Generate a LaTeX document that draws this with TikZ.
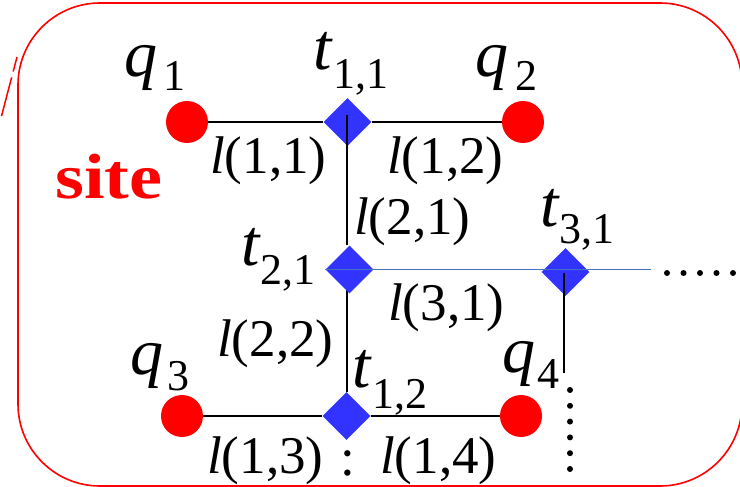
\documentclass[tikz,border=0pt]{standalone}
\usepackage{fontspec}
\usepackage{graphicx}
\setmainfont{Liberation Serif}
\usetikzlibrary{shapes.geometric,backgrounds}
\definecolor{qred}{RGB}{255,0,0}
\definecolor{tblue}{RGB}{51,51,255}
\definecolor{lblue}{RGB}{68,114,196}
\tikzset{
  qnode/.style={circle, fill=qred, inner sep=0pt, minimum size=42pt},
  tnode/.style={diamond, fill=tblue, inner sep=0pt, minimum width=48pt, minimum height=48pt},
  mainlab/.style={inner sep=0pt, anchor=base west, font=\fontsize{66}{66}\selectfont\itshape},
  sublab/.style={inner sep=0pt, anchor=base west, font=\fontsize{44}{44}\selectfont},
  linklab/.style={inner sep=0pt, anchor=base west, font=\fontsize{53}{53}\selectfont},
  wire/.style={black, line width=2pt},
  dotmark/.style={fill=black},
}
\begin{document}
\begin{tikzpicture}[x=1pt,y=-1pt]
\useasboundingbox (0,0) rectangle (740,487);
% site frame
\draw[qred, line width=1.6pt, rounded corners=82pt] (18,3) rectangle (742,486);
\draw[qred, line width=1.5pt, dash pattern=on 15pt off 6pt on 40pt off 6pt] (17,57) -- (1,118);
\node[inner sep=0pt, anchor=base west, text=qred, font=\bfseries\fontsize{64}{64}\selectfont] (site) at (55,198) {\scalebox{1.16}[1]{site}};

% nodes
\node[qnode] (q1) at (187,122) {};
\node[qnode] (q2) at (523,122) {};
\node[qnode] (q3) at (182,416) {};
\node[qnode] (q4) at (521,416) {};
\node[tnode] (t11) at (347.5,122) {};
\node[tnode] (t21) at (349.5,269.5) {};
\node[tnode] (t31) at (565.5,272) {};
\node[tnode] (t12) at (346.5,416) {};
\coordinate (v1) at (347,115);
\coordinate (end31) at (651,269.5);
\coordinate (end31v) at (564,373);

% connectors below nodes
\begin{pgfonlayer}{background}
\draw[wire] (q1) -- (t11);
\draw[wire] (t11) -- (q2);
\draw[wire] (q3) -- (t12);
\draw[wire] (t12) -- (q4);
\draw[wire] (t21.center -| v1) -- (t12.north -| v1);
\end{pgfonlayer}
% connectors above nodes
\draw[wire] (v1) -- (t21.north -| v1);
\draw[lblue, line width=1.2pt] (t21.west) -- (end31);
\draw[wire] (t31.center) ++(-1.5,1) coordinate (t31c) (t31c) -- (end31v);

% continuation dots
\foreach \i in {0,...,4} \fill[dotmark] (667+16.5*\i,273) circle (3pt);
\foreach \i in {0,...,5} \fill[dotmark] (570,390+15.8*\i) circle (3pt);

% labels
\node[mainlab] (lq1) at (124,77) {q};
\node[sublab] (lq1s) at (163,91) {1};
\node[mainlab] (lq2) at (475,77) {q};
\node[sublab] (lq2s) at (515,91) {2};
\node[mainlab] (lq3) at (130,374) {q};
\node[sublab] (lq3s) at (167,390) {3};
\node[mainlab] (lq4) at (502,372) {q};
\node[sublab] (lq4s) at (537,388) {4};
\node[mainlab] (lt11) at (313,70) {t};
\node[sublab] (lt11s) at (333,89) {1,1};
\node[mainlab] (lt21) at (241,265) {t};
\node[sublab] (lt21s) at (260,284) {2,1};
\node[mainlab] (lt31) at (540,226) {t};
\node[sublab] (lt31s) at (559,243) {3,1};
\node[mainlab] (lt12) at (352,387) {t};
\node[sublab] (lt12s) at (372,408) {1,2};

\node[linklab] (l11) at (210,174) {\textit{l}(1,1)};
\node[linklab] (l12) at (387,174) {\textit{l}(1,2)};
\node[linklab] (l21) at (354,234) {\textit{l}(2,1)};
\node[linklab] (l31) at (388,320) {\textit{l}(3,1)};
\node[linklab] (l22) at (217,356) {\textit{l}(2,2)};
\node[linklab] (l13) at (207,473) {\textit{l}(1,3)};
\node[linklab] (l14) at (380,473) {\textit{l}(1,4)};
\node[linklab, anchor=base] (colon) at (348,475) {:};
\end{tikzpicture}
\end{document}
